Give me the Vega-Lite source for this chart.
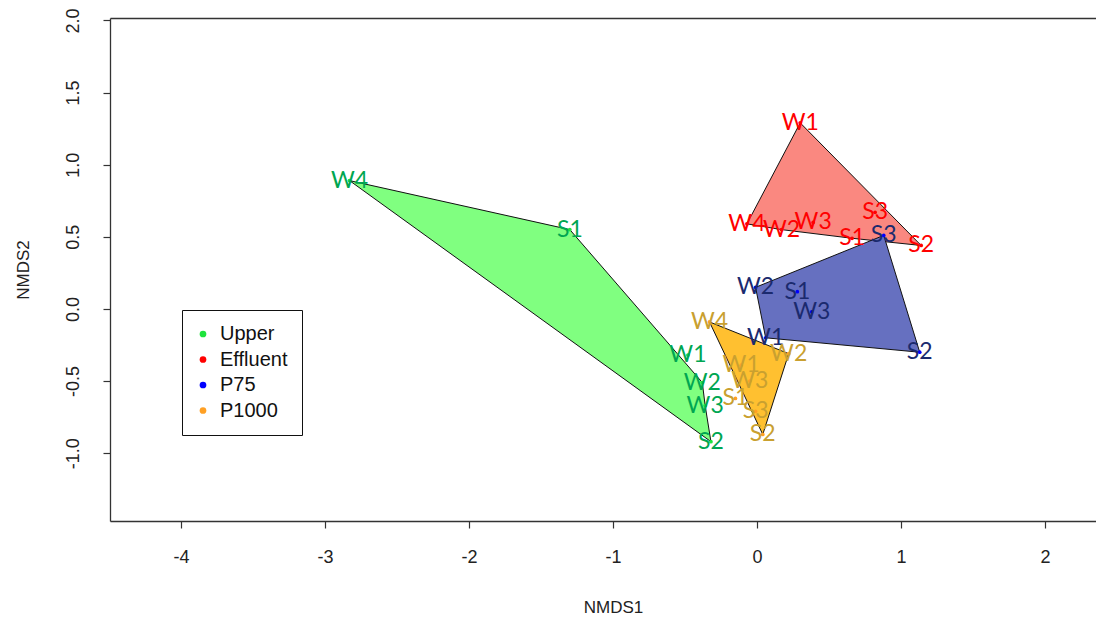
{
  "$schema": "https://vega.github.io/schema/vega-lite/v6.json",
  "width": 986,
  "height": 503,
  "autosize": {"type": "none"},
  "padding": {"left": 110, "top": 18, "right": 0, "bottom": 105},
  "background": "white",
  "data": {
    "values": [
      {"group": "Upper", "label": "W4", "x": -2.83, "y": 0.89, "hull": 1},
      {"group": "Upper", "label": "S1", "x": -1.30, "y": 0.55, "hull": 2},
      {"group": "Upper", "label": "W1", "x": -0.48, "y": -0.32, "hull": null},
      {"group": "Upper", "label": "W2", "x": -0.38, "y": -0.51, "hull": 3},
      {"group": "Upper", "label": "W3", "x": -0.36, "y": -0.67, "hull": 4},
      {"group": "Upper", "label": "S2", "x": -0.32, "y": -0.92, "hull": 5},

      {"group": "Effluent", "label": "W1", "x": 0.30, "y": 1.29, "hull": 1},
      {"group": "Effluent", "label": "S3", "x": 0.82, "y": 0.67, "hull": null},
      {"group": "Effluent", "label": "S2", "x": 1.14, "y": 0.44, "hull": 2},
      {"group": "Effluent", "label": "S1", "x": 0.66, "y": 0.49, "hull": 3},
      {"group": "Effluent", "label": "W2", "x": 0.17, "y": 0.55, "hull": 4},
      {"group": "Effluent", "label": "W4", "x": -0.07, "y": 0.59, "hull": 5},
      {"group": "Effluent", "label": "W3", "x": 0.39, "y": 0.60, "hull": null},

      {"group": "P75", "label": "W2", "x": -0.01, "y": 0.15, "hull": 1},
      {"group": "P75", "label": "S3", "x": 0.88, "y": 0.51, "hull": 2},
      {"group": "P75", "label": "S2", "x": 1.13, "y": -0.30, "hull": 3},
      {"group": "P75", "label": "W1", "x": 0.06, "y": -0.20, "hull": 4},
      {"group": "P75", "label": "S1", "x": 0.28, "y": 0.12, "hull": null},
      {"group": "P75", "label": "W3", "x": 0.38, "y": -0.02, "hull": null},

      {"group": "P1000", "label": "W4", "x": -0.33, "y": -0.09, "hull": 1},
      {"group": "P1000", "label": "W2", "x": 0.22, "y": -0.31, "hull": 2},
      {"group": "P1000", "label": "S2", "x": 0.04, "y": -0.87, "hull": 3},
      {"group": "P1000", "label": "W1", "x": -0.11, "y": -0.39, "hull": null},
      {"group": "P1000", "label": "W3", "x": -0.05, "y": -0.50, "hull": null},
      {"group": "P1000", "label": "S1", "x": -0.15, "y": -0.62, "hull": null},
      {"group": "P1000", "label": "S3", "x": -0.01, "y": -0.71, "hull": null}
    ]
  },
  "encoding": {
    "x": {"field": "x", "type": "quantitative", "scale": {"domain": [-4.493, 2.354], "nice": false, "zero": false}, "axis": null},
    "y": {
      "field": "y", "type": "quantitative",
      "scale": {"domain": [-1.47, 2.017], "nice": false, "zero": false},
      "axis": {
        "values": [-1, -0.5, 0, 0.5, 1, 1.5, 2],
        "labelExpr": "datum.value < 0 ? '-' + format(-datum.value, '.1f') : format(datum.value, '.1f')",
        "labelAngle": -90,
        "labelAlign": "center",
        "labelBaseline": "bottom",
        "labelPadding": 21,
        "title": "NMDS2",
        "titlePadding": 32
      }
    }
  },
  "layer": [
    {
      "transform": [{"filter": "datum.group === 'Upper' && datum.hull != null"}],
      "mark": {"type": "line", "interpolate": "linear-closed", "fill": "#80FF80", "stroke": "#111111", "strokeWidth": 1},
      "encoding": {"order": {"field": "hull", "type": "quantitative"}}
    },
    {
      "transform": [{"filter": "datum.group === 'Effluent' && datum.hull != null"}],
      "mark": {"type": "line", "interpolate": "linear-closed", "fill": "#FA8880", "stroke": "#111111", "strokeWidth": 1},
      "encoding": {"order": {"field": "hull", "type": "quantitative"}}
    },
    {
      "transform": [{"filter": "datum.group === 'P75' && datum.hull != null"}],
      "mark": {"type": "line", "interpolate": "linear-closed", "fill": "#6670C0", "stroke": "#111111", "strokeWidth": 1},
      "encoding": {"order": {"field": "hull", "type": "quantitative"}}
    },
    {
      "transform": [{"filter": "datum.group === 'P1000' && datum.hull != null"}],
      "mark": {"type": "line", "interpolate": "linear-closed", "fill": "#FFC030", "stroke": "#111111", "strokeWidth": 1},
      "encoding": {"order": {"field": "hull", "type": "quantitative"}}
    },
    {
      "mark": {"type": "point", "filled": true, "shape": "circle", "size": 14, "opacity": 1},
      "encoding": {
        "x": {
          "field": "x", "type": "quantitative",
          "scale": {"domain": [-4.493, 2.354], "nice": false, "zero": false},
          "axis": {
            "orient": "bottom",
            "values": [-4, -3, -2, -1, 0, 1, 2],
            "labelExpr": "datum.value < 0 ? '-' + format(-datum.value, 'd') : format(datum.value, 'd')",
            "labelPadding": 20,
            "title": "NMDS1",
            "titlePadding": 33,
            "titleX": 503,
            "titleAlign": "center"
          }
        },
        "color": {
          "field": "group", "type": "nominal",
          "scale": {"domain": ["Upper", "Effluent", "P75", "P1000"], "range": ["#1EE33C", "#FF0000", "#0000FF", "#FFA024"]},
          "legend": {
            "orient": "none",
            "legendX": 72,
            "legendY": 292,
            "title": null,
            "strokeColor": "#111111",
            "fillColor": "white",
            "padding": 14,
            "symbolType": "circle",
            "symbolSize": 45,
            "symbolStrokeWidth": 0,
            "symbolOffset": -3,
            "labelOffset": 7,
            "rowPadding": 5.5,
            "labelFont": "Liberation Sans",
            "labelFontSize": 20,
            "labelColor": "#111111"
          }
        }
      }
    },
    {
      "mark": {"type": "text", "font": "Lato", "fontSize": 23, "align": "center", "baseline": "middle"},
      "encoding": {
        "x": {
          "field": "x", "type": "quantitative",
          "scale": {"domain": [-4.493, 2.354], "nice": false, "zero": false},
          "axis": {"orient": "top", "labels": false, "ticks": false, "domain": true, "title": null}
        },
        "text": {"field": "label"},
        "color": {
          "field": "group", "type": "nominal",
          "scale": {"domain": ["Upper", "Effluent", "P75", "P1000"], "range": ["#00A651", "#FF0000", "#1B2A6E", "#C9A030"]},
          "legend": null
        }
      }
    }
  ],
  "resolve": {"scale": {"color": "independent"}, "axis": {"x": "independent"}},
  "config": {
    "view": {"stroke": null},
    "axis": {
      "grid": false,
      "domainColor": "#333333",
      "domainWidth": 1.3,
      "tickColor": "#333333",
      "tickSize": 7,
      "tickWidth": 1.2,
      "labelFont": "Liberation Sans",
      "labelFontSize": 18,
      "labelColor": "#222222",
      "titleFont": "Liberation Sans",
      "titleFontSize": 17,
      "titleFontWeight": "normal",
      "titleColor": "#222222"
    }
  }
}
